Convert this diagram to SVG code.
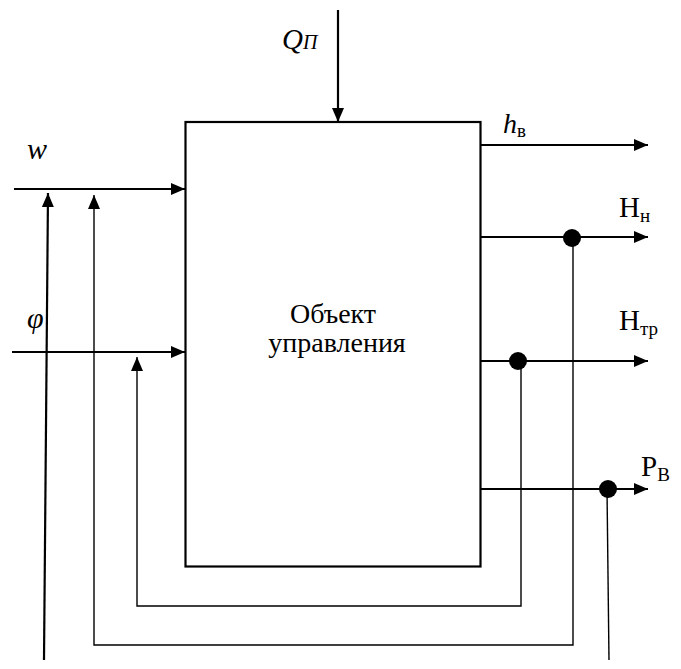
<svg xmlns="http://www.w3.org/2000/svg" width="681" height="669" viewBox="0 0 681 669">
<defs>
<marker id="ah" viewBox="0 0 14 12" refX="14" refY="6" markerWidth="14" markerHeight="12" markerUnits="userSpaceOnUse" orient="auto">
<path d="M0,0 L14,6 L0,12 Z" fill="#000"/>
</marker>
</defs>
<style>
.main{stroke:#000;stroke-width:2.2;fill:none}
.fb{stroke:#000;stroke-width:1.4;fill:none}
text{fill:#000}
.i{font-style:italic}
</style>
<rect width="681" height="669" fill="#fff"/>
<g id="object" font-family="Liberation Serif, DejaVu Serif, serif">
<rect x="185.5" y="122" width="295" height="444.5" class="main"/>
<text font-size="28" text-anchor="middle" x="333" y="323">Объект</text>
<text font-size="28" text-anchor="middle" x="337" y="352">управления</text>
</g>
<g id="labels" font-family="Liberation Serif, DejaVu Serif, serif">
<text class="i" font-size="30" x="27" y="159">w</text>
<text class="i" font-size="30" x="27" y="328">φ</text>
<text class="i" x="282" y="49"><tspan font-size="29">Q</tspan><tspan font-size="20">П</tspan></text>
<text x="503" y="133"><tspan class="i" font-size="28">h</tspan><tspan font-size="19" dy="4">в</tspan></text>
<text x="619" y="217"><tspan font-size="29">Н</tspan><tspan font-size="19" dy="5">н</tspan></text>
<text x="619" y="330"><tspan font-size="29">Н</tspan><tspan font-size="19" dy="5">тр</tspan></text>
<text x="641" y="476"><tspan font-size="29">Р</tspan><tspan font-size="19" dy="5">В</tspan></text>
</g>
<g id="connectors">
<line x1="338" y1="10" x2="338" y2="122" class="main" marker-end="url(#ah)"/>
<line x1="14" y1="189" x2="185" y2="189" class="main" marker-end="url(#ah)"/>
<line x1="12" y1="352" x2="185" y2="352" class="main" marker-end="url(#ah)"/>
<line x1="481" y1="145" x2="648" y2="145" class="main" marker-end="url(#ah)"/>
<line x1="481" y1="237" x2="648" y2="237" class="main" marker-end="url(#ah)"/>
<line x1="481" y1="361" x2="648" y2="361" class="main" marker-end="url(#ah)"/>
<line x1="481" y1="489" x2="648" y2="489" class="main" marker-end="url(#ah)"/>
<line x1="44" y1="660" x2="48" y2="193" class="main" marker-end="url(#ah)"/>
<polyline points="573,240 573,645 94,645 94,195" class="fb" marker-end="url(#ah)"/>
<polyline points="521,361 521,606 137,606 137,357" class="fb" marker-end="url(#ah)"/>
<line x1="607" y1="489" x2="609" y2="660" class="fb"/>
<circle cx="572" cy="238" r="9"/>
<circle cx="518" cy="361" r="9"/>
<circle cx="608" cy="489" r="9"/>
</g>
</svg>
